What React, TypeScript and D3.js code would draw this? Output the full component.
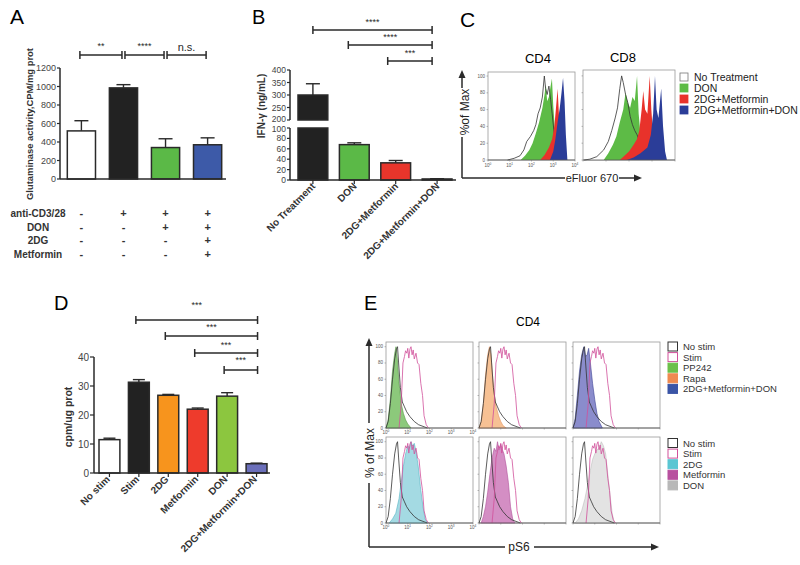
import React from "react";
import * as d3 from "d3";

const FONT = "Liberation Sans, Arial, Helvetica, sans-serif";
const INK = "#2a2a2a";

// ---- panel A ----
const aGroups = ["none", "stim", "don", "all"];
const aValues = [520, 985, 340, 370];
const aErrors = [110, 35, 95, 75];
const aColors = ["#ffffff", "#222222", "#5bb947", "#3d5aa8"];
const aTicks = [0, 200, 400, 600, 800, 1000, 1200];
const aRows = ["anti-CD3/28", "DON", "2DG", "Metformin"];
const aSigns = [
  ["-", "+", "+", "+"],
  ["-", "-", "+", "+"],
  ["-", "-", "-", "+"],
  ["-", "-", "-", "+"],
];
const aSig = ["**", "****", "n.s."];

// ---- panel B ----
const bGroups = ["No Treatment", "DON", "2DG+Metformin", "2DG+Metformin+DON"];
const bValues = [300, 68, 33, 2];
const bErrors = [45, 3.5, 4.5, 0.5];
const bColors = ["#222222", "#5bb947", "#e8352b", "#222222"];
const bUpperTicks = [200, 250, 300, 350, 400];
const bLowerTicks = [0, 20, 40, 60, 80, 100];
const bSig = ["****", "****", "***"];

// ---- panel C ----
const cLegend = ["No Treatment", "DON", "2DG+Metformin", "2DG+Metformin+DON"];
const cColors = ["#ffffff", "#5dbb46", "#e8322b", "#2b3d98"];
const cd4NoTx = [[0.9, 0], [1.2, 2], [1.47, 5], [1.65, 12], [1.78, 22], [1.95, 28], [2.1, 35], [2.2, 42], [2.3, 55], [2.4, 62], [2.5, 75], [2.59, 100], [2.65, 85], [2.72, 78], [2.8, 88], [2.88, 72], [2.95, 55], [3.05, 30], [3.15, 10], [3.3, 0]];
const cd4Don = [[1.5, 0], [1.7, 5], [1.9, 12], [2.05, 20], [2.2, 32], [2.35, 45], [2.5, 62], [2.6, 78], [2.66, 90], [2.72, 70], [2.8, 75], [2.88, 88], [2.94, 97], [3.0, 65], [3.08, 35], [3.15, 15], [3.25, 0]];
const cd4Met = [[2.4, 0], [2.6, 6], [2.8, 15], [2.95, 25], [3.05, 40], [3.12, 60], [3.2, 85], [3.26, 55], [3.32, 25], [3.4, 0]];
const cd4All = [[2.85, 0], [3.0, 10], [3.1, 25], [3.2, 45], [3.3, 62], [3.38, 80], [3.45, 98], [3.52, 70], [3.58, 30], [3.65, 0]];
const cd8NoTx = [[0.05, 0], [0.3, 1], [0.6, 4], [0.9, 12], [1.1, 22], [1.25, 35], [1.4, 50], [1.5, 62], [1.6, 85], [1.68, 100], [1.75, 92], [1.85, 78], [1.95, 68], [2.05, 52], [2.15, 42], [2.25, 35], [2.35, 30], [2.45, 22], [2.6, 8], [2.8, 0]];
const cd8Don = [[0.9, 0], [1.1, 8], [1.3, 18], [1.45, 28], [1.6, 45], [1.75, 60], [1.85, 80], [1.95, 68], [2.05, 62], [2.15, 75], [2.25, 70], [2.35, 100], [2.42, 55], [2.5, 30], [2.6, 20], [2.75, 10], [2.9, 0]];
const cd8Met = [[1.6, 0], [1.8, 5], [2.0, 10], [2.2, 18], [2.35, 25], [2.45, 35], [2.55, 60], [2.62, 82], [2.7, 60], [2.8, 55], [2.9, 100], [2.97, 60], [3.05, 30], [3.15, 10], [3.3, 0]];
const cd8All = [[1.9, 0], [2.2, 3], [2.5, 8], [2.8, 15], [2.95, 30], [3.05, 55], [3.13, 100], [3.2, 60], [3.28, 50], [3.4, 85], [3.48, 40], [3.57, 10], [3.65, 0]];

// ---- panel D ----
const dGroups = ["No stim", "Stim", "2DG", "Metformin", "DON", "2DG+Metformin+DON"];
const dValues = [11.5, 31.3, 26.8, 22.0, 26.5, 3.2];
const dErrors = [0.5, 0.9, 0.3, 0.4, 1.2, 0.2];
const dColors = ["#ffffff", "#222222", "#f7941d", "#ee3b2c", "#8cc63f", "#6b6fba"];
const dTicks = [0, 10, 20, 30, 40];
const dSig = ["***", "***", "***", "***"];

// ---- panel E ----
const eNoStim = [[0, 0], [0.1, 8], [0.2, 30], [0.3, 60], [0.4, 85], [0.48, 97], [0.53, 100], [0.58, 80], [0.66, 50], [0.75, 32], [0.85, 26], [0.95, 20], [1.1, 14], [1.3, 8], [1.5, 4], [1.7, 2], [1.9, 0]];
const eStim = [[0.6, 0], [0.7, 30], [0.78, 80], [0.85, 88], [0.9, 95], [0.96, 92], [1.0, 98], [1.05, 86], [1.1, 97], [1.15, 100], [1.2, 90], [1.25, 96], [1.3, 85], [1.38, 92], [1.45, 80], [1.52, 78], [1.6, 55], [1.68, 40], [1.75, 15], [1.85, 4], [1.95, 0]];
const ePP242 = [[0, 0], [0.1, 10], [0.2, 35], [0.3, 70], [0.4, 92], [0.46, 100], [0.52, 85], [0.6, 55], [0.7, 30], [0.8, 18], [0.9, 10], [1.0, 5], [1.15, 0]];
const eRapa = [[0, 0], [0.1, 8], [0.2, 30], [0.3, 65], [0.4, 90], [0.48, 100], [0.55, 90], [0.62, 65], [0.7, 42], [0.8, 25], [0.9, 15], [1.0, 8], [1.1, 3], [1.25, 0]];
const eAll = [[0, 0], [0.1, 12], [0.2, 40], [0.3, 70], [0.4, 90], [0.5, 100], [0.58, 88], [0.65, 90], [0.72, 98], [0.8, 80], [0.9, 55], [1.0, 35], [1.1, 18], [1.2, 8], [1.35, 0]];
const e2DG = [[0.15, 0], [0.3, 5], [0.45, 12], [0.6, 30], [0.7, 50], [0.8, 70], [0.9, 85], [1.0, 95], [1.08, 92], [1.15, 100], [1.22, 95], [1.3, 98], [1.38, 88], [1.48, 70], [1.58, 45], [1.7, 20], [1.8, 5], [1.9, 0]];
const eMet = [[0.1, 0], [0.2, 8], [0.3, 20], [0.4, 38], [0.5, 60], [0.6, 80], [0.7, 92], [0.78, 88], [0.85, 100], [0.92, 90], [1.0, 97], [1.08, 90], [1.15, 85], [1.25, 70], [1.35, 50], [1.45, 20], [1.55, 5], [1.65, 0]];
const eDON = [[0.1, 0], [0.25, 5], [0.4, 15], [0.55, 30], [0.7, 50], [0.8, 65], [0.9, 78], [1.0, 85], [1.1, 90], [1.2, 92], [1.3, 100], [1.4, 95], [1.5, 85], [1.6, 60], [1.7, 35], [1.8, 12], [1.9, 0]];
const eLegendTop = ["No stim", "Stim", "PP242", "Rapa", "2DG+Metformin+DON"];
const eLegendBottom = ["No stim", "Stim", "2DG", "Metformin", "DON"];
const pctTicks = [0, 20, 40, 60, 80, 100];
const decades = [0, 1, 2, 3, 4];

const Bracket = ({ x1, x2, y, label, dy = 7, fs = 9 }) => (
  <g>
    <line x1={x1} x2={x2} y1={y} y2={y} stroke={INK} strokeWidth={1.5} />
    <line x1={x1} x2={x1} y1={y - 4} y2={y + 4} stroke={INK} strokeWidth={1.5} />
    <line x1={x2} x2={x2} y1={y - 4} y2={y + 4} stroke={INK} strokeWidth={1.5} />
    <text x={(x1 + x2) / 2} y={y - dy} textAnchor="middle" fontSize={fs} fill={INK}>
      {label}
    </text>
  </g>
);

const ErrorBar = ({ x, y1, y2, w }) => (
  <g stroke={INK} strokeWidth={1.4}>
    <line x1={x} x2={x} y1={y1} y2={y2} />
    <line x1={x - w / 2} x2={x + w / 2} y1={y2} y2={y2} />
  </g>
);

const Exp = ({ x, y, n }) => (
  <text x={x} y={y} textAnchor="middle" fontSize={4.5} fill="#555">
    10<tspan dy={-2} fontSize={3.2}>{n}</tspan>
  </text>
);

const Histo = ({ x, y, w, h, top, layers, showY = false, showX = false, xLabelY = 0 }) => {
  const xs = d3.scaleLinear().domain([0, 4]).range([x, x + w]);
  const ys = d3.scaleLinear().domain([0, top]).range([y + h, y]);
  const area = d3.area<number[]>().x((d) => xs(d[0])).y0(ys(0)).y1((d) => ys(d[1]));
  const line = d3.line<number[]>().x((d) => xs(d[0])).y((d) => ys(d[1]));
  return (
    <g>
      <rect x={x} y={y} width={w} height={h} fill="#fff" stroke="#9a9a9a" strokeWidth={0.8} />
      {layers.map((l, i) =>
        l.fill ? (
          <path key={i} d={area(l.data)} fill={l.fill} stroke={l.stroke || "none"} strokeWidth={0.6} />
        ) : (
          <path key={i} d={line(l.data)} fill="none" stroke={l.stroke} strokeWidth={0.8} />
        )
      )}
      <line x1={x} x2={x + w} y1={y + h} y2={y + h} stroke="#555" strokeWidth={0.8} />
      {pctTicks.map((t) => (
        <g key={t}>
          <line x1={x - 1.5} x2={x} y1={ys(t)} y2={ys(t)} stroke="#777" strokeWidth={0.5} />
          {showY && (
            <text x={x - 3} y={ys(t) + 1.5} textAnchor="end" fontSize={4.5} fill="#555">
              {t}
            </text>
          )}
        </g>
      ))}
      {decades.map((t) => (
        <g key={t}>
          <line x1={xs(t)} x2={xs(t)} y1={y + h} y2={y + h + 1.5} stroke="#777" strokeWidth={0.5} />
          {showX && <Exp x={xs(t)} y={xLabelY} n={t} />}
        </g>
      ))}
    </g>
  );
};

const PanelA = () => {
  const x = d3.scaleBand<string>().domain(aGroups).range([61, 228]).paddingInner(0.33).paddingOuter(0.15);
  const y = d3.scaleLinear().domain([0, 1200]).range([179, 68]);
  const bw = x.bandwidth();
  const cx = (g) => x(g)! + bw / 2;
  return (
    <g>
      <text x={10} y={24} fontSize={21}>A</text>
      {aSig.map((s, i) => (
        <Bracket
          key={i}
          x1={cx(aGroups[i]) + (i ? 1.5 : -1.5)}
          x2={cx(aGroups[i + 1]) - 1.5}
          y={55}
          label={s}
          dy={s === "n.s." ? 4 : 6}
          fs={s === "n.s." ? 11 : 9}
        />
      ))}
      {aGroups.map((g, i) => (
        <g key={g}>
          <ErrorBar x={cx(g)} y1={y(aValues[i])} y2={y(aValues[i] + aErrors[i])} w={14} />
          <rect x={x(g)} y={y(aValues[i])} width={bw} height={y(0) - y(aValues[i])} fill={aColors[i]} stroke={INK} strokeWidth={1.5} />
        </g>
      ))}
      <line x1={60} x2={60} y1={68} y2={179} stroke={INK} strokeWidth={1.5} />
      <line x1={60} x2={226} y1={179} y2={179} stroke={INK} strokeWidth={1.5} />
      {aTicks.map((t) => (
        <g key={t}>
          <line x1={57} x2={60} y1={y(t)} y2={y(t)} stroke={INK} strokeWidth={1.2} />
          <text x={56} y={y(t) + 3} textAnchor="end" fontSize={9} fill="#444">{t}</text>
        </g>
      ))}
      <text transform="translate(29,124) rotate(-90)" textAnchor="middle" dominantBaseline="central" fontSize={9.5} fontWeight="bold" fill="#333" textLength={152} lengthAdjust="spacingAndGlyphs">
        Glutaminase activity,CPM/mg prot
      </text>
      {aRows.map((r, ri) => (
        <g key={r}>
          <text x={38} y={217 + ri * 13.7} textAnchor="middle" fontSize={10} fontWeight="bold" fill="#333">{r}</text>
          {aSigns[ri].map((s, ci) => (
            <text key={ci} x={cx(aGroups[ci])} y={217 + ri * 13.7} textAnchor="middle" fontSize={11} fontWeight="bold" fill="#333">{s}</text>
          ))}
        </g>
      ))}
    </g>
  );
};

const PanelB = () => {
  const x = d3.scaleBand<string>().domain(bGroups).range([292, 458]).paddingInner(0.28).paddingOuter(0.145);
  const yU = d3.scaleLinear().domain([200, 400]).range([120, 70]);
  const yL = d3.scaleLinear().domain([0, 100]).range([180, 128]);
  const bw = x.bandwidth();
  const cx = (g) => x(g)! + bw / 2;
  const last = cx(bGroups[3]) - 5;
  const starts = [cx(bGroups[0]), cx(bGroups[1]) - 6, cx(bGroups[2]) - 8];
  const levels = [30, 45, 61];
  return (
    <g>
      <text x={252} y={24} fontSize={20}>B</text>
      {bSig.map((s, i) => (
        <Bracket key={i} x1={starts[i]} x2={last} y={levels[i]} label={s} dy={5} />
      ))}
      {bGroups.map((g, i) => {
        const v = bValues[i];
        const e = bErrors[i];
        if (v > 100) {
          return (
            <g key={g}>
              <ErrorBar x={cx(g)} y1={yU(v)} y2={yU(v + e)} w={14} />
              <rect x={x(g)} y={yU(v)} width={bw} height={yU(200) - yU(v)} fill={bColors[i]} stroke={INK} strokeWidth={1.5} />
              <rect x={x(g)} y={yL(100)} width={bw} height={yL(0) - yL(100)} fill={bColors[i]} stroke={INK} strokeWidth={1.5} />
            </g>
          );
        }
        return (
          <g key={g}>
            <ErrorBar x={cx(g)} y1={yL(v)} y2={yL(v + e)} w={14} />
            <rect x={x(g)} y={yL(v)} width={bw} height={yL(0) - yL(v)} fill={bColors[i]} stroke={INK} strokeWidth={1.5} />
          </g>
        );
      })}
      <line x1={290} x2={290} y1={70} y2={120} stroke={INK} strokeWidth={1.5} />
      <line x1={290} x2={290} y1={128} y2={180} stroke={INK} strokeWidth={1.5} />
      <line x1={290} x2={456} y1={180} y2={180} stroke={INK} strokeWidth={1.5} />
      {bUpperTicks.map((t) => (
        <g key={t}>
          <line x1={287} x2={290} y1={yU(t)} y2={yU(t)} stroke={INK} strokeWidth={1.2} />
          <text x={286} y={yU(t) + (t === 200 ? 2 : 3)} textAnchor="end" fontSize={8.5} fill="#444">{t}</text>
        </g>
      ))}
      {bLowerTicks.map((t) => (
        <g key={t}>
          <line x1={287} x2={290} y1={yL(t)} y2={yL(t)} stroke={INK} strokeWidth={1.2} />
          <text x={286} y={yL(t) + (t === 100 ? 4 : 3)} textAnchor="end" fontSize={8.5} fill="#444">{t}</text>
        </g>
      ))}
      {bGroups.map((g) => (
        <g key={g}>
          <line x1={cx(g)} x2={cx(g)} y1={180} y2={184} stroke={INK} strokeWidth={1.2} />
          <text transform={`translate(${cx(g) + 3},${187}) rotate(-45)`} textAnchor="end" fontSize={10} fontWeight="bold" fill="#333">{g}</text>
        </g>
      ))}
      <text transform="translate(261,106) rotate(-90)" textAnchor="middle" dominantBaseline="central" fontSize={10} fontWeight="bold" fill="#333">
        IFN-γ (ng/mL)
      </text>
    </g>
  );
};

const PanelC = () => (
  <g>
    <text x={460} y={27} fontSize={21}>C</text>
    <text x={538} y={63} textAnchor="middle" fontSize={13}>CD4</text>
    <text x={623} y={62} textAnchor="middle" fontSize={13}>CD8</text>
    <Histo
      x={488} y={72} w={87} h={88} top={104.8} showY showX xLabelY={167}
      layers={[
        { data: cd4NoTx, fill: "#ffffff" },
        { data: cd4Don, fill: cColors[1] },
        { data: cd4NoTx, stroke: "#333" },
        { data: cd4Met, fill: cColors[2] },
        { data: cd4All, fill: cColors[3] },
      ]}
    />
    <Histo
      x={583} y={70} w={92} h={90} top={107}
      layers={[
        { data: cd8NoTx, fill: "#ffffff" },
        { data: cd8Don, fill: cColors[1] },
        { data: cd8NoTx, stroke: "#333" },
        { data: cd8Met, fill: cColors[2] },
        { data: cd8All, fill: cColors[3] },
      ]}
    />
    {cLegend.map((l, i) => (
      <g key={l}>
        <rect x={680} y={73 + i * 11} width={8} height={8} fill={cColors[i]} stroke={i === 0 ? "#777" : cColors[i]} strokeWidth={0.8} />
        <text x={694} y={81 + i * 11} fontSize={10.5} fill="#222">{l}</text>
      </g>
    ))}
    <line x1={462} x2={462} y1={178} y2={137} stroke={INK} strokeWidth={1.5} />
    <line x1={462} x2={462} y1={88} y2={76} stroke={INK} strokeWidth={1.5} />
    <polygon points="462,70 458.5,78 465.5,78" fill={INK} />
    <text transform="translate(465,112) rotate(-90)" textAnchor="middle" dominantBaseline="central" fontSize={12} fill="#222">%of Max</text>
    <line x1={462} x2={565} y1={178} y2={178} stroke={INK} strokeWidth={1.5} />
    <line x1={619} x2={636} y1={178} y2={178} stroke={INK} strokeWidth={1.5} />
    <polygon points="642,178 634,174.5 634,181.5" fill={INK} />
    <text x={592} y={182} textAnchor="middle" fontSize={11} fill="#222">eFluor 670</text>
  </g>
);

const PanelD = () => {
  const x = d3.scaleBand<string>().domain(dGroups).range([94, 272]).paddingInner(0.29).paddingOuter(0.17);
  const y = d3.scaleLinear().domain([0, 40]).range([473, 357]);
  const bw = x.bandwidth();
  const cx = (g) => x(g)! + bw / 2;
  const end = cx(dGroups[5]) + 1;
  const levels = [320, 336, 353, 370];
  const gaps = [12, 6, 5, 7];
  return (
    <g>
      <text x={54} y={310} fontSize={20}>D</text>
      {dSig.map((s, i) => (
        <Bracket key={i} x1={cx(dGroups[i + 1]) - 3} x2={end} y={levels[i]} label={s} dy={gaps[i]} />
      ))}
      {dGroups.map((g, i) => (
        <g key={g}>
          <ErrorBar x={cx(g)} y1={y(dValues[i])} y2={y(dValues[i] + dErrors[i])} w={12} />
          <rect x={x(g)} y={y(dValues[i])} width={bw} height={y(0) - y(dValues[i])} fill={dColors[i]} stroke={INK} strokeWidth={1.5} />
          <line x1={cx(g)} x2={cx(g)} y1={473} y2={477} stroke={INK} strokeWidth={1.2} />
          <text transform={`translate(${cx(g) + 1},${480}) rotate(-45)`} textAnchor="end" fontSize={10} fontWeight="bold" fill="#333">{g}</text>
        </g>
      ))}
      <line x1={94} x2={94} y1={357} y2={473} stroke={INK} strokeWidth={1.5} />
      <line x1={94} x2={270} y1={473} y2={473} stroke={INK} strokeWidth={1.5} />
      {dTicks.map((t) => (
        <g key={t}>
          <line x1={90} x2={94} y1={y(t)} y2={y(t)} stroke={INK} strokeWidth={1.2} />
          <text x={89} y={y(t) + 3.5} textAnchor="end" fontSize={10} fill="#444">{t}</text>
        </g>
      ))}
      <text transform="translate(68,417) rotate(-90)" textAnchor="middle" dominantBaseline="central" fontSize={10.5} fontWeight="bold" fill="#333">cpm/ug prot</text>
    </g>
  );
};

const PanelE = () => {
  const xs = [386, 479, 573];
  const ys = [342, 437];
  const fills = [
    [
      { data: ePP242, fill: "#8cc97b", stroke: "#5a9a4a" },
      { data: eRapa, fill: "#f7c194", stroke: "#e39360" },
      { data: eAll, fill: "#8a8ccc", stroke: "#3e4496" },
    ],
    [
      { data: e2DG, fill: "#a4dae3", stroke: "#56b4c4" },
      { data: eMet, fill: "#d48ec4", stroke: "#b0509a" },
      { data: eDON, fill: "#e3e3e3", stroke: "#bdbdbd" },
    ],
  ];
  const legends = [eLegendTop, eLegendBottom];
  const legendColors = [
    ["#ffffff", "#ffffff", "#6cc04a", "#ef8a50", "#3b55a6"],
    ["#ffffff", "#ffffff", "#5bc6d3", "#b8509f", "#b8b8b8"],
  ];
  const legendTop = [342, 438.5];
  return (
    <g>
      <text x={364} y={310} fontSize={20}>E</text>
      <text x={528} y={326} textAnchor="middle" fontSize={12}>CD4</text>
      {ys.map((yy, r) =>
        xs.map((xx, c) => (
          <Histo
            key={`${r}-${c}`}
            x={xx} y={yy} w={87} h={86} top={105.8}
            showY={c === 0} showX={c === 0} xLabelY={yy + 92}
            layers={[fills[r][c], { data: eNoStim, stroke: "#333" }, { data: eStim, stroke: "#d0509a" }]}
          />
        ))
      )}
      {legends.map((lg, r) =>
        lg.map((l, i) => (
          <g key={`${r}-${l}`}>
            <rect
              x={668} y={legendTop[r] + i * 10.6} width={9.5} height={9}
              fill={legendColors[r][i]}
              stroke={i === 0 ? "#333" : i === 1 ? "#d0509a" : legendColors[r][i]}
              strokeWidth={1}
            />
            <text x={683} y={legendTop[r] + 8 + i * 10.6} fontSize={9.5} fill="#333">{l}</text>
          </g>
        ))
      )}
      <line x1={369} x2={369} y1={547} y2={483} stroke={INK} strokeWidth={1.5} />
      <line x1={369} x2={369} y1={423} y2={344} stroke={INK} strokeWidth={1.5} />
      <polygon points="369,338 365.5,346 372.5,346" fill={INK} />
      <text transform="translate(370,453) rotate(-90)" textAnchor="middle" dominantBaseline="central" fontSize={12} fill="#222">% of Max</text>
      <line x1={369} x2={505} y1={547} y2={547} stroke={INK} strokeWidth={1.5} />
      <line x1={534} x2={653} y1={547} y2={547} stroke={INK} strokeWidth={1.5} />
      <polygon points="659,547 651,543.5 651,550.5" fill={INK} />
      <text x={519} y={551} textAnchor="middle" fontSize={12} fill="#222">pS6</text>
    </g>
  );
};

export default function App() {
  return (
    <svg
      width={800}
      height={565}
      style={{ position: "absolute", left: 0, top: 0, background: "#fff" }}
      fontFamily={FONT}
    >
      <rect width={800} height={565} fill="#fff" />
      <PanelA />
      <PanelB />
      <PanelC />
      <PanelD />
      <PanelE />
    </svg>
  );
}
